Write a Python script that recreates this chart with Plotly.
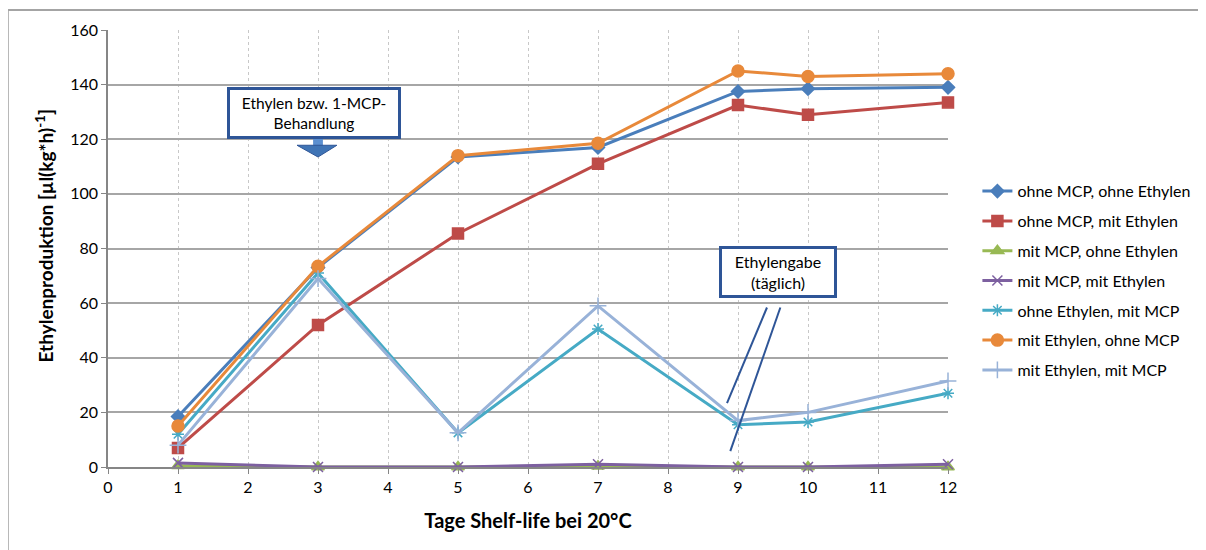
import plotly.graph_objects as go

days = [1, 3, 5, 7, 9, 10, 12]
names = ["ohne MCP, ohne Ethylen", "ohne MCP, mit Ethylen", "mit MCP, ohne Ethylen",
         "mit MCP, mit Ethylen", "ohne Ethylen, mit MCP", "mit Ethylen, ohne MCP",
         "mit Ethylen, mit MCP"]
ohne_ohne = [18.5, 73, 113.5, 117, 137.5, 138.5, 139]
ohne_mit = [7, 52, 85.5, 111, 132.5, 129, 133.5]
mcp_ohne = [0.5, 0, 0, 0.3, 0, 0, 0]
mcp_mit = [1.5, 0, 0, 1, 0, 0, 1]
oe_mcp = [12, 71, 12.5, 50.5, 15.5, 16.5, 27]
me_ohne = [15, 73.5, 114, 118.5, 145, 143, 144]
me_mcp = [8, 69, 12.5, 59, 17, 20, 31.5]
series = [ohne_ohne, ohne_mit, mcp_ohne, mcp_mit, oe_mcp, me_ohne, me_mcp]
colors = ["#4A7EBB", "#BE4B48", "#98B954", "#7D60A0", "#46AAC5", "#E8893A", "#98B2D8"]
symbols = ["diamond", "square", "triangle-up", "x-thin-open", "asterisk-open", "circle", "cross-thin-open"]
sizes = [10, 11, 11, 10, 10, 12, 12]

fig = go.Figure()
for i, (n, v, c, s, sz) in enumerate(zip(names, series, colors, symbols, sizes)):
    fig.add_trace(go.Scatter(x=days, y=v, name=n, mode="lines+markers", legendgroup=f"g{i}",
                             cliponaxis=False,
                             line=dict(color=c, width=3),
                             marker=dict(symbol=s, size=sz, color=c,
                                         line=dict(color=c, width=1.5))))

font = "Lato, 'Open Sans', sans-serif"
# page body has an 8px margin, so margins are reduced by 8 on left/top
fig.update_layout(
    width=1206, height=550,
    margin=dict(l=100, r=266, t=20, b=91),
    paper_bgcolor="white", plot_bgcolor="white",
    font=dict(family=font, size=16, color="#000"),
    xaxis=dict(range=[0, 12], dtick=1, tick0=0, showgrid=True, gridcolor="#C8C8C8",
               griddash="dot", gridwidth=1, showline=True, linecolor="#868686", linewidth=1.5,
               ticks="outside", ticklen=5, tickcolor="#868686", zeroline=False,
               title=dict(text="<b>Tage Shelf-life bei 20°C</b>", font=dict(size=20), standoff=19)),
    yaxis=dict(range=[0, 160], dtick=20, showgrid=True, gridcolor="#A6A6A6", gridwidth=1.5,
               showline=True, linecolor="#868686", linewidth=1.5, ticks="outside", ticklen=5,
               tickcolor="#868686", zeroline=False),
    legend=dict(x=1.035, y=0.67, xanchor="left", yanchor="top", font=dict(size=16),
                tracegroupgap=6, itemwidth=30, bgcolor="rgba(0,0,0,0)"),
    showlegend=True,
)

# y-axis title (placed as rotated text, slightly above plot centre as in the original)
fig.add_annotation(xref="paper", yref="paper", x=-0.076, y=0.528, xanchor="center", yanchor="middle",
                   showarrow=False, textangle=-90,
                   text="<b>Ethylenproduktion [µl(kg*h)<sup>-1</sup>]</b>", font=dict(size=19))

# outer chart border (top and left edges visible)
fig.add_shape(type="line", xref="paper", yref="paper", x0=-0.119, x1=1.4, y0=1.0456, y1=1.0456,
              line=dict(color="#868686", width=1.5))
fig.add_shape(type="line", xref="paper", yref="paper", x0=-0.119, x1=-0.119, y0=1.0456, y1=-0.3,
              line=dict(color="#A6A6A6", width=1.5))

# block arrow under first box
fig.add_shape(type="rect", xref="x", yref="y", x0=2.93, x1=3.07, y0=117.5, y1=121,
              fillcolor="#5B8FD0", line=dict(width=0))
fig.add_shape(type="path", xref="x", yref="y",
              path="M 2.7,117.8 L 3.27,117.8 L 3.0,113.5 Z",
              fillcolor="#3F74B5", line=dict(color="#2E5597", width=1))

fig.add_annotation(x=2.94, y=129.7, xref="x", yref="y", text="Ethylen bzw. 1-MCP-<br>Behandlung",
                   showarrow=False, font=dict(size=15.5), bgcolor="white",
                   bordercolor="#2E5597", borderwidth=3, borderpad=4, width=160)
fig.add_annotation(x=9.57, y=71.4, xref="x", yref="y", text="Ethylengabe<br>(täglich)",
                   showarrow=False, font=dict(size=16), bgcolor="white",
                   bordercolor="#2E5597", borderwidth=3, borderpad=3, width=106)
# pointer lines
fig.add_shape(type="line", xref="x", yref="y", x0=9.414, y0=58.4, x1=8.843, y1=23.4,
              line=dict(color="#2E5597", width=2))
fig.add_shape(type="line", xref="x", yref="y", x0=9.605, y0=58.4, x1=8.89, y1=5.8,
              line=dict(color="#2E5597", width=2))

fig.write_html("out.html")
